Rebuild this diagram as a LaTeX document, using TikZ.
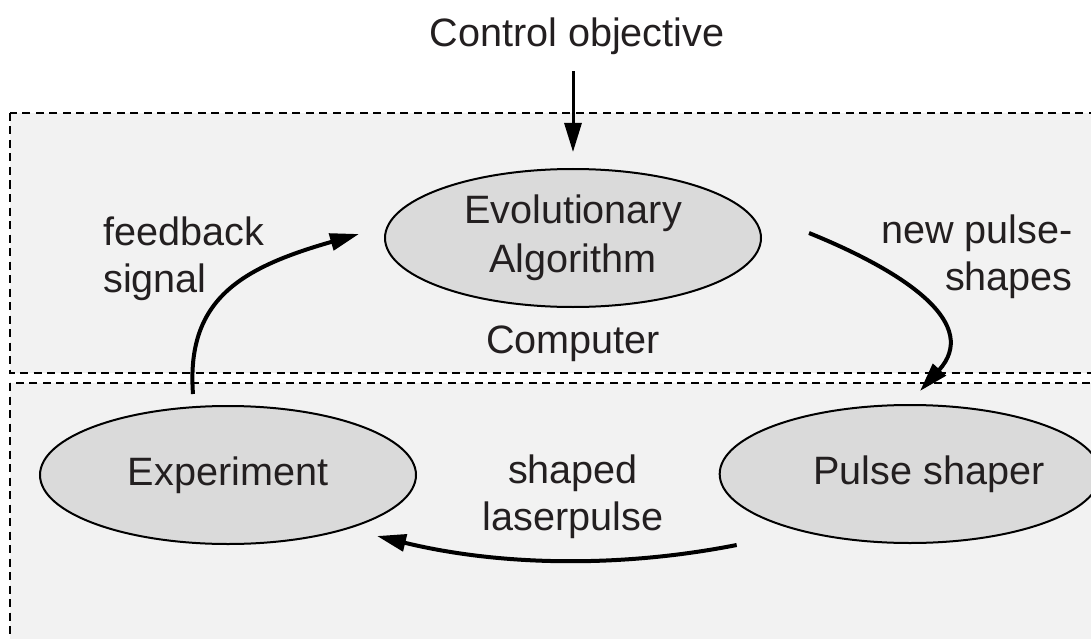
\documentclass[tikz,border=0pt]{standalone}
\usepackage{fontspec}
\setmainfont{Liberation Sans}
\usetikzlibrary{shapes.geometric,arrows.meta,calc}
\definecolor{panel}{HTML}{F2F2F2}
\definecolor{blob}{HTML}{DADADA}
\definecolor{ink}{HTML}{231F20}
\begin{document}
\begin{tikzpicture}[x=1pt,y=-1pt,
  txt/.style={inner sep=0pt,text=ink,font=\fontsize{39.6}{47}\selectfont},
  blobnode/.style={ellipse,draw=black,line width=2pt,fill=blob,inner sep=0pt,
    minimum width=376pt,minimum height=138pt,text=ink,align=center,
    font=\fontsize{39.6}{48.5}\selectfont},
  panelbox/.style={fill=panel,draw=black,line width=2.6pt,dash pattern=on 8pt off 5.5pt},
  flow/.style={line width=4pt,-{Triangle[length=29pt,width=17pt]}},
  inflow/.style={line width=3pt,-{Triangle[length=29pt,width=17pt]}}]
\useasboundingbox (0,0) rectangle (1091,639);
\fill[white] (0,0) rectangle (1091,639);
% panels
\draw[panelbox] (10,113) rectangle (1110,373);
\draw[panelbox] (10,383) rectangle (1110,660);
% nodes
\node[blobnode] (ea) at (573,238) {Evolutionary\\Algorithm};
\node[blobnode] (ex) at (228,475) {Experiment};
\node[blobnode,minimum width=370pt] (ps) at (910,474) {\hspace*{38pt}Pulse shaper};
\node[txt,anchor=base] (co) at (577,47) {Control objective};
\node[txt,anchor=base] (comp) at (573,353) {Computer};
\node[txt,align=left,anchor=base west] (fb) at (103,292) {feedback\\signal};
\node[txt,align=right,anchor=base east] (nps) at (1073,290) {new pulse-\\shapes};
\node[txt,align=center,anchor=base] (sl) at (573,530) {shaped\\laserpulse};
% connectors
\draw[inflow,shorten <=16pt,shorten >=16pt] (co.south -| ea.north) -- (ea.north);
\draw[flow] ($(ex.north)+(-35,-11)$) .. controls (186,300) and (240,268) .. ($(ea.west)+(-25,-4)$);
\draw[flow] ($(ea.east)+(47,-5)$) .. controls (910,274) and (980,325) .. ($(ps.north)+(10,-13)$);
\draw[flow] ($(ps.west)+(18,71)$) .. controls (620,568) and (500,566) .. ($(ex.east)+(-40,61)$);
\end{tikzpicture}
\end{document}
